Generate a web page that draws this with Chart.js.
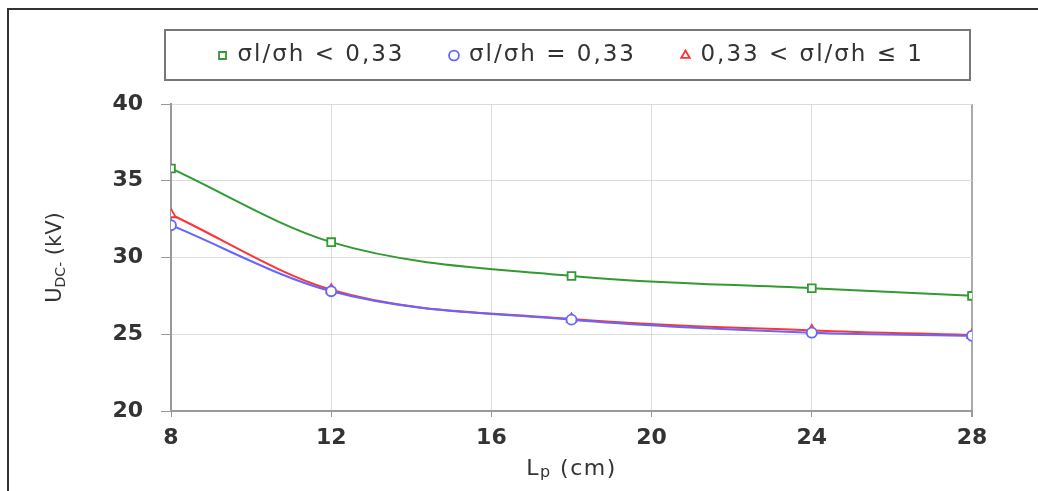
<!DOCTYPE html>
<html>
<head>
<meta charset="utf-8">
<script src="https://cdn.jsdelivr.net/npm/chart.js"></script>
<style>
html, body { margin: 0; padding: 0; background: #fff; }
</style>
</head>
<body>
<canvas id="chart" width="1038" height="491"></canvas>
<script>
// data
var lengths = [8, 12, 18, 24, 28];            // Lp (cm)
var xTicks = [8, 12, 16, 20, 24, 28];
var yTicks = [20, 25, 30, 35, 40];
var seriesNames = ["σl/σh < 0,33", "σl/σh = 0,33", "0,33 < σl/σh ≤ 1"];
var lowRatio = [35.8, 31.0, 28.8, 28.0, 27.5];   // green
var equalRatio = [32.1, 27.8, 25.95, 25.1, 24.9]; // blue
var highRatio = [32.8, 27.9, 26.0, 25.25, 24.95]; // red

var FONT = "'DejaVu Sans', Verdana, sans-serif";

function pts(vals) {
    return lengths.map(function (x, i) { return { x: x, y: vals[i] }; });
}

function series(label, vals, color, style, r) {
    return {
        label: label,
        data: pts(vals),
        borderColor: color,
        backgroundColor: color,
        borderWidth: 2,
        cubicInterpolationMode: "monotone",
        pointStyle: style,
        pointRadius: r,
        pointBorderColor: color,
        pointBackgroundColor: "#fff",
        pointBorderWidth: 1.8
    };
}

// write text made of pieces, some of them subscript
function drawPieces(c, pieces, cx, cy) {
    var total = 0;
    pieces.forEach(function (p) {
        c.font = p.size + "px " + FONT;
        p.w = c.measureText(p.t).width;
        total += p.w;
    });
    var x = cx - total / 2;
    pieces.forEach(function (p) {
        c.font = p.size + "px " + FONT;
        c.fillText(p.t, x, cy + (p.dy || 0));
        x += p.w;
    });
}

// wider legend text, items a bit higher, extra room under the legend
var legendFix = {
    id: "legendFix",
    afterInit: function (chart) {
        var lg = chart.legend;
        var fit = lg.fit, draw = lg.draw;
        lg.fit = function () {
            this.ctx.letterSpacing = "2px";
            fit.apply(this, arguments);
            this.ctx.letterSpacing = "0px";
            this.height += 21;
        };
        lg.draw = function () {
            var top = this.top;
            this.top = top - 6;
            this.ctx.letterSpacing = "2px";
            draw.apply(this, arguments);
            this.ctx.letterSpacing = "0px";
            this.top = top;
        };
    }
};

var decor = {
    id: "decor",
    beforeDraw: function (chart) {
        var c = chart.ctx;
        c.save();
        c.fillStyle = "#fff";
        c.fillRect(0, 0, chart.width, chart.height);
        c.strokeStyle = "#333";
        c.lineWidth = 2;
        c.beginPath();
        c.moveTo(8, chart.height);
        c.lineTo(8, 9);
        c.lineTo(chart.width, 9);
        c.stroke();
        c.restore();
    },
    afterDraw: function (chart) {
        var c = chart.ctx;
        var a = chart.chartArea;
        c.save();
        // legend frame
        c.strokeStyle = "#777";
        c.lineWidth = 2;
        c.strokeRect(a.left - 6, chart.legend.top + 26, a.right - a.left + 4, 50);

        c.fillStyle = "#333";
        c.textBaseline = "middle";
        c.textAlign = "left";
        // x title
        c.letterSpacing = "1.5px";
        drawPieces(c, [
            { t: "L", size: 22 },
            { t: "p", size: 16, dy: 4 },
            { t: " (cm)", size: 22 }
        ], (a.left + a.right) / 2, 469);
        c.letterSpacing = "0px";
        // y title
        c.translate(56, (a.top + a.bottom) / 2);
        c.rotate(-Math.PI / 2);
        drawPieces(c, [
            { t: "U", size: 21 },
            { t: "DC-", size: 14, dy: 5 },
            { t: " (kV)", size: 21 }
        ], 0, 0);
        c.restore();
    }
};

new Chart(document.getElementById("chart"), {
    type: "line",
    data: {
        datasets: [
            series(seriesNames[0], lowRatio, "#339933", "rect", 5.5),
            series(seriesNames[1], equalRatio, "#6666ff", "circle", 5),
            series(seriesNames[2], highRatio, "#ff3333", "triangle", 5.5)
        ]
    },
    options: {
        responsive: false,
        animation: false,
        layout: { padding: { left: 100, right: 66, top: 4, bottom: 10 } },
        plugins: {
            legend: {
                position: "top",
                fullSize: false,
                labels: {
                    usePointStyle: true,
                    boxHeight: 7,
                    boxWidth: 7,
                    padding: 46,
                    color: "#333",
                    font: { family: FONT, size: 23 }
                }
            },
            tooltip: { enabled: false }
        },
        scales: {
            x: {
                type: "linear",
                min: 8,
                max: 28,
                afterBuildTicks: function (s) {
                    s.ticks = xTicks.map(function (v) { return { value: v }; });
                },
                afterFit: function (s) { s.height = 70; },
                border: { color: "#999", width: 2 },
                grid: {
                    color: function (ctx) {
                        return ctx.tick && ctx.tick.value === 28 ? "#aaa" : "#dcdcdc";
                    },
                    lineWidth: function (ctx) {
                        return ctx.tick && ctx.tick.value === 28 ? 2 : 1;
                    },
                    tickColor: "#999",
                    tickLength: 6
                },
                ticks: {
                    padding: 8,
                    color: "#333",
                    font: { family: FONT, size: 22, weight: "bold" }
                }
            },
            y: {
                min: 20,
                max: 40,
                afterBuildTicks: function (s) {
                    s.ticks = yTicks.map(function (v) { return { value: v }; });
                },
                afterFit: function (s) { s.width = 71; },
                border: { color: "#999", width: 2 },
                grid: {
                    color: "#dcdcdc",
                    tickColor: "#999",
                    tickLength: 10
                },
                ticks: {
                    padding: 18,
                    color: "#333",
                    font: { family: FONT, size: 22, weight: "bold" }
                }
            }
        }
    },
    plugins: [legendFix, decor]
});
</script>
</body>
</html>
